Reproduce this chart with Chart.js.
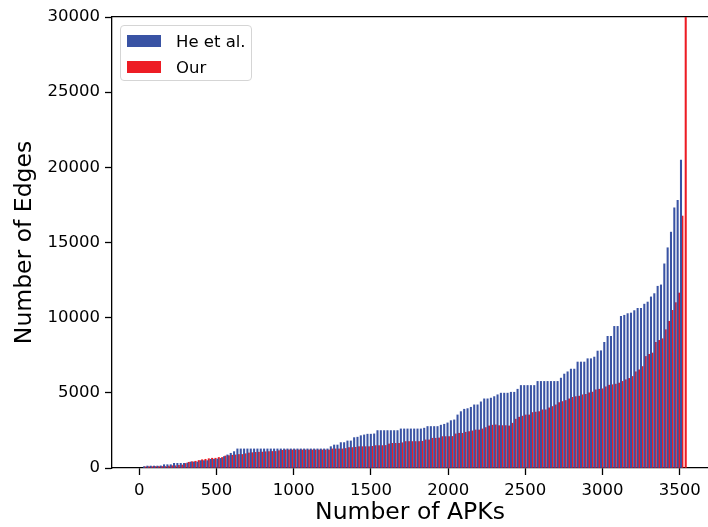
<!DOCTYPE html>
<html>
<head>
<meta charset="utf-8">
<script src="https://cdn.jsdelivr.net/npm/chart.js@4.4.0/dist/chart.umd.min.js"></script>
<style>
  body { margin: 0; background: #fff; }
  #wrap { position: relative; width: 708px; height: 527px; overflow: hidden; }
  #legend {
    position: absolute; left: 120px; top: 25px; width: 130px; height: 54px;
    border: 1px solid #d5d5d5; border-radius: 4px; background: rgba(255,255,255,0.85);
    font-family: 'DejaVu Sans', sans-serif; font-size: 16.5px; color: #000;
  }
  .item { position: absolute; left: 6px; height: 20px; display: flex; align-items: center; }
  .patch { width: 34px; height: 12px; margin-right: 15px; }
</style>
</head>
<body>
<div id="wrap">
  <canvas id="edgesChart" width="708" height="527"></canvas>
  <div id="legend">
    <div class="item" style="top:5px"><span class="patch" style="background:#3953a4"></span>He et al.</div>
    <div class="item" style="top:31px"><span class="patch" style="background:#ed1c24"></span>Our</div>
  </div>
</div>
<script>
//------------------------------ DATA ----------------------------------
// posisi sampel APK (setiap ~21.6 APK ada satu pasangan batang)
const apkStart = 35;
const apkStep = 21.6;

// jumlah edge, He et al.
const heValues = [
  90, 130, 130, 130, 130,
  140, 220, 220, 220,
  310, 310, 310, 310, 330,
  400, 400, 400,
  490, 490, 490,
  580, 580, 600,
  640, 760, 870, 980, 1090,
  1270, 1270, 1270, 1270, 1270, 1270, 1270, 1270, 1270, 1270, 1270, 1270, 1270, 1270,
  1270, 1270, 1270, 1270, 1270, 1270, 1270, 1270, 1270, 1270, 1270, 1270, 1270, 1270,
  1420, 1530, 1530, 1690, 1690, 1800, 1800, 2020, 2050, 2150, 2200, 2250, 2250, 2270,
  2490, 2490, 2490, 2490, 2490, 2490, 2490,
  2600, 2600, 2600, 2600, 2600, 2600, 2600, 2650,
  2760, 2760, 2760, 2760,
  2850, 2910, 3000, 3150, 3200,
  3530, 3750, 3910, 3950, 4040, 4200, 4200,
  4400, 4600, 4600, 4650, 4750, 4870, 4980, 4980, 4980,
  5040, 5040, 5240, 5490, 5490, 5490, 5490, 5490,
  5760, 5760, 5760, 5760, 5760, 5760, 5760,
  5980, 6250, 6400, 6580, 6580,
  7050, 7050, 7050, 7270, 7270, 7380, 7780, 7800,
  8360, 8760, 8760, 9420, 9420,
  10090, 10160, 10270, 10310, 10470, 10620, 10620,
  10900, 11040, 11380, 11600, 12090, 12180, 13580, 14650, 15690, 17310, 17800, 20490,
  null
];

// jumlah edge, metode kita
const ourValues = [
  80, 90, 90, 100, 100, 100, 100,
  130, 150, 150, 180, 200,
  300, 380, 420, 450, 500,
  550, 580, 620, 650, 650, 700, 700,
  800, 820, 850, 870, 900, 900, 950,
  1000, 1020, 1040, 1050, 1060, 1080, 1090, 1100, 1100,
  1150, 1180, 1200,
  1200, 1200, 1200, 1200, 1200, 1200, 1200, 1200, 1200, 1200, 1200, 1200, 1200,
  1270, 1270, 1270, 1270, 1300,
  1360, 1360, 1380, 1420, 1420, 1420, 1420, 1440,
  1490, 1490, 1490, 1500, 1600, 1640, 1640, 1640, 1680,
  1760, 1760, 1760, 1760, 1760, 1780,
  1870, 1870, 1980, 1980, 2000,
  2090, 2090, 2090, 2100,
  2270, 2310, 2310, 2380, 2420, 2470, 2530, 2530,
  2600, 2690, 2800, 2850, 2870, 2820, 2820, 2820, 2800,
  2980, 3250, 3380, 3450, 3530, 3530, 3690, 3720, 3750,
  3870, 3870, 4000, 4090, 4200, 4350, 4420, 4490,
  4600, 4700, 4750, 4780, 4870, 4900, 5000, 5050,
  5200, 5240, 5270, 5400, 5510, 5540, 5580, 5650,
  5760, 5870, 5960, 6090, 6400, 6530, 6750,
  7420, 7560, 7650, 8360, 8490, 8600,
  9200, 9760, 10490, 11000, 11640, 16760, 32000
];

const xTicks = [0, 500, 1000, 1500, 2000, 2500, 3000, 3500];
const yTicks = [0, 5000, 10000, 15000, 20000, 25000, 30000];

const heColor = '#3953a4';
const ourColor = '#ed1c24';
const fontFamily = "'DejaVu Sans', sans-serif";

//------------------------------ CHART ----------------------------------
function toPoints(values) {
  return values.map((v, i) => ({ x: apkStart + i * apkStep, y: v }));
}

const axisBase = {
  offset: false,
  grid: { display: true, drawOnChartArea: false, drawTicks: true, tickLength: 7, tickWidth: 1.3, color: '#000', offset: false },
  border: { display: true, color: '#000', width: 1.3 },
  ticks: { color: '#000', font: { family: fontFamily, size: 16.5 }, autoSkip: false, maxRotation: 0, callback: v => String(v) }
};

new Chart(document.getElementById('edgesChart'), {
  type: 'bar',
  data: {
    datasets: [
      { label: 'He et al.', data: toPoints(heValues), backgroundColor: heColor, barThickness: 1.4 },
      { label: 'Our', data: toPoints(ourValues), backgroundColor: ourColor, barThickness: 1.4 }
    ]
  },
  options: {
    responsive: false,
    animation: false,
    devicePixelRatio: 1,
    layout: { padding: { top: 17, right: 0, left: 0, bottom: 0 } },
    plugins: { legend: { display: false }, tooltip: { enabled: false } },
    scales: {
      x: {
        ...axisBase,
        type: 'linear',
        min: -177,
        max: 3683,
        afterBuildTicks: axis => { axis.ticks = xTicks.map(v => ({ value: v })); },
        afterFit: axis => { axis.height = 59; },
        ticks: { ...axisBase.ticks, padding: 6 },
        title: { display: true, text: 'Number of APKs', color: '#000', font: { family: fontFamily, size: 23.5 }, padding: { top: 0, bottom: 0 } }
      },
      x2: {
        type: 'linear',
        position: 'top',
        min: -177,
        max: 3683,
        ticks: { display: false },
        grid: { display: false, drawTicks: false },
        border: { display: true, color: '#000', width: 1.3 },
        afterFit: axis => { axis.height = 0; }
      },
      y: {
        ...axisBase,
        min: 0,
        max: 30000,
        afterBuildTicks: axis => { axis.ticks = yTicks.map(v => ({ value: v })); },
        afterFit: axis => { axis.width = 112; },
        ticks: { ...axisBase.ticks, padding: 5 },
        title: { display: true, text: 'Number of Edges', color: '#000', font: { family: fontFamily, size: 23.5 }, padding: { top: 11, bottom: 0 } }
      }
    }
  }
});
</script>
</body>
</html>
